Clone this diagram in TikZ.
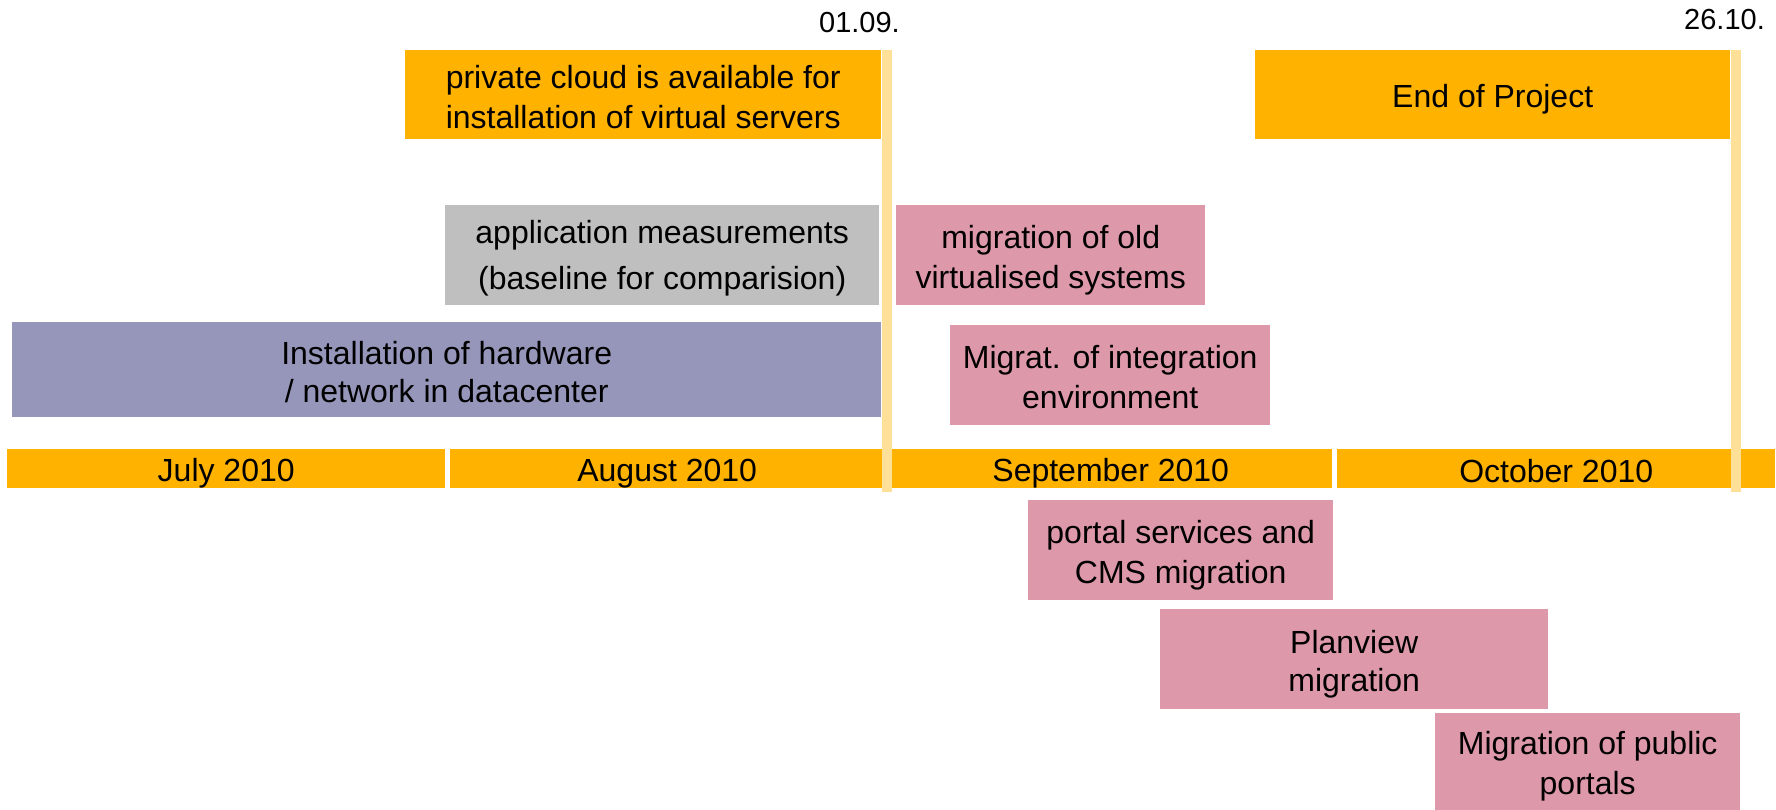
\documentclass[tikz,border=0pt]{standalone}
\usepackage{fontspec}
\setmainfont{Liberation Sans}
\definecolor{barorange}{RGB}{255,178,0}
\definecolor{hwpurple}{RGB}{150,150,187}
\definecolor{migpink}{RGB}{221,152,170}
\definecolor{measgrey}{RGB}{191,191,191}
\definecolor{milestone}{RGB}{255,224,153}
\newcommand{\myls}{\rule[-5.5pt]{0pt}{38pt}}
\newcommand{\mylg}{\rule[-7.5pt]{0pt}{38pt}}
\tikzset{
  task/.style={rectangle, inner sep=0pt, anchor=north west, align=center,
    font=\fontsize{32}{38}\selectfont, text=black},
  month/.style={task, fill=barorange},
  datelabel/.style={inner sep=0pt, anchor=base east, font=\fontsize{29}{34}\selectfont},
  msline/.style={fill=milestone}
}
\begin{document}
\begin{tikzpicture}[x=1pt,y=-1pt]
\useasboundingbox (0,0) rectangle (1776,810);
\fill[white] (0,0) rectangle (1776,810);
% month bar
\node[month, minimum width=438pt, minimum height=39pt] (jul) at (7,449) {\myls July 2010};
\node[month, minimum width=434pt, minimum height=39pt] (aug) at (450,449) {\myls August 2010};
\node[month, minimum width=443pt, minimum height=39pt] (sep) at (889,449) {\myls September 2010};
\node[month, minimum width=438pt, minimum height=39pt] (oct) at (1337,449) {\myls October 2010};
% tasks
\node[task, fill=barorange, minimum width=476pt, minimum height=89pt] (cloud) at (405,50)
  {\myls private cloud is available for\\\myls installation of virtual servers};
\node[task, fill=barorange, minimum width=475pt, minimum height=89pt] (end) at (1255,50)
  {\myls End of Project};
\node[task, fill=measgrey, minimum width=434pt, minimum height=100pt, font=\fontsize{32}{46}\selectfont] (meas) at (445,205)
  {\mylg application measurements\\\mylg (baseline for comparision)};
\node[task, fill=hwpurple, minimum width=869pt, minimum height=95pt] (hw) at (12,322)
  {\myls Installation of hardware\\\myls / network in datacenter};
\node[task, fill=migpink, minimum width=309pt, minimum height=100pt] (old) at (896,205)
  {\myls migration of old\\\myls virtualised systems};
\node[task, fill=migpink, minimum width=320pt, minimum height=100pt] (integ) at (950,325)
  {\myls Migrat. of integration\\\myls environment};
\node[task, fill=migpink, minimum width=305pt, minimum height=100pt] (portal) at (1028,500)
  {\myls portal services and\\\myls CMS migration};
\node[task, fill=migpink, minimum width=388pt, minimum height=100pt] (plan) at (1160,609)
  {\myls Planview\\\myls migration};
\node[task, fill=migpink, minimum width=305pt, minimum height=97pt] (public) at (1435,713)
  {\myls Migration of public\\\myls portals};
% milestone lines
\fill[msline] (882,50) rectangle (892,492);
\fill[msline] (1731,50) rectangle (1741,492);
% date labels
\node[datelabel] (d1) at (900,33) {01.09.};
\node[datelabel] (d2) at (1765,30) {26.10.};
\end{tikzpicture}
\end{document}
